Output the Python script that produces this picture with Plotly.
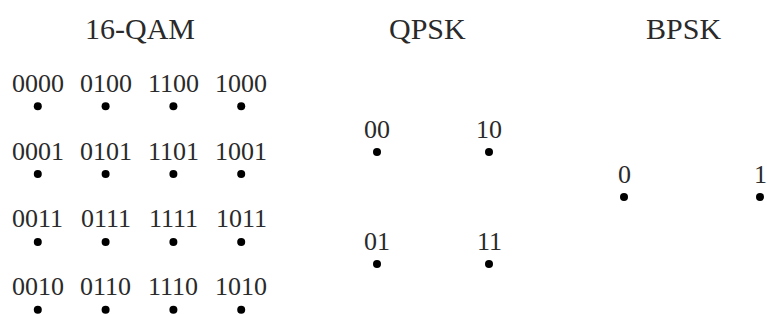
import plotly.graph_objects as go

W, H = 767, 314

# ---- data ----
qam16_I = [-3, -1, 1, 3] * 4
qam16_Q = [3] * 4 + [1] * 4 + [-1] * 4 + [-3] * 4
qam16_labels = ["0000", "0100", "1100", "1000",
                "0001", "0101", "1101", "1001",
                "0011", "0111", "1111", "1011",
                "0010", "0110", "1110", "1010"]

qpsk_I = [-1, 1, -1, 1]
qpsk_Q = [1, 1, -1, -1]
qpsk_labels = ["00", "10", "01", "11"]

bpsk_I = [-1, 1]
bpsk_Q = [0, 0]
bpsk_labels = ["0", "1"]

titles = ["16-QAM", "QPSK", "BPSK"]

# ---- layout geometry (pixel centre and pixels per unit for each panel) ----
panels = [
    dict(I=qam16_I, Q=qam16_Q, labels=qam16_labels, cx=139.5, cy=208, s=33.9, title_dx=0.0),
    dict(I=qpsk_I, Q=qpsk_Q, labels=qpsk_labels, cx=433, cy=208, s=56, title_dx=-0.09),
    dict(I=bpsk_I, Q=bpsk_Q, labels=bpsk_labels, cx=692, cy=197, s=68, title_dx=-0.13),
]

font_family = "Liberation Serif, Times New Roman, serif"
text_color = "#2a2a2a"

fig = go.Figure()
annotations = []
layout = dict(
    width=W, height=H,
    margin=dict(l=0, r=0, t=0, b=0),
    paper_bgcolor="white", plot_bgcolor="white",
    showlegend=False,
)

for k, p in enumerate(panels, start=1):
    xa = "x" if k == 1 else f"x{k}"
    ya = "y" if k == 1 else f"y{k}"
    fig.add_trace(go.Scatter(
        x=p["I"], y=p["Q"], mode="markers",
        marker=dict(color="black", size=8),
        xaxis=xa, yaxis=ya, hoverinfo="skip", cliponaxis=False,
    ))
    xr = [(0 - p["cx"]) / p["s"], (W - p["cx"]) / p["s"]]
    yr = [(p["cy"] - H) / p["s"], p["cy"] / p["s"]]
    axkw = dict(visible=False, showgrid=False, zeroline=False, domain=[0, 1], fixedrange=True)
    xkey = "xaxis" if k == 1 else f"xaxis{k}"
    ykey = "yaxis" if k == 1 else f"yaxis{k}"
    xdict = dict(range=xr, **axkw)
    ydict = dict(range=yr, **axkw)
    if k > 1:
        xdict["overlaying"] = "x"
        ydict["overlaying"] = "y"
        ydict["anchor"] = xa
        xdict["anchor"] = ya
    layout[xkey] = xdict
    layout[ykey] = ydict
    for xi, qi, lab in zip(p["I"], p["Q"], p["labels"]):
        annotations.append(dict(
            x=xi, y=qi, xref=xa, yref=ya, text=lab, showarrow=False,
            yshift=23, yanchor="middle", xanchor="center",
            font=dict(family=font_family, size=26, color=text_color),
        ))
    # panel title
    annotations.append(dict(
        x=p["title_dx"], y=(p["cy"] - 28) / p["s"], xref=xa, yref=ya,
        text=titles[k - 1], showarrow=False, yanchor="middle", xanchor="center",
        font=dict(family=font_family, size=30, color=text_color),
    ))

layout["annotations"] = annotations
fig.update_layout(**layout)
fig.write_html("out.html", config={"displayModeBar": False},
               post_script="document.body.style.margin='0';document.body.style.overflow='hidden';")
